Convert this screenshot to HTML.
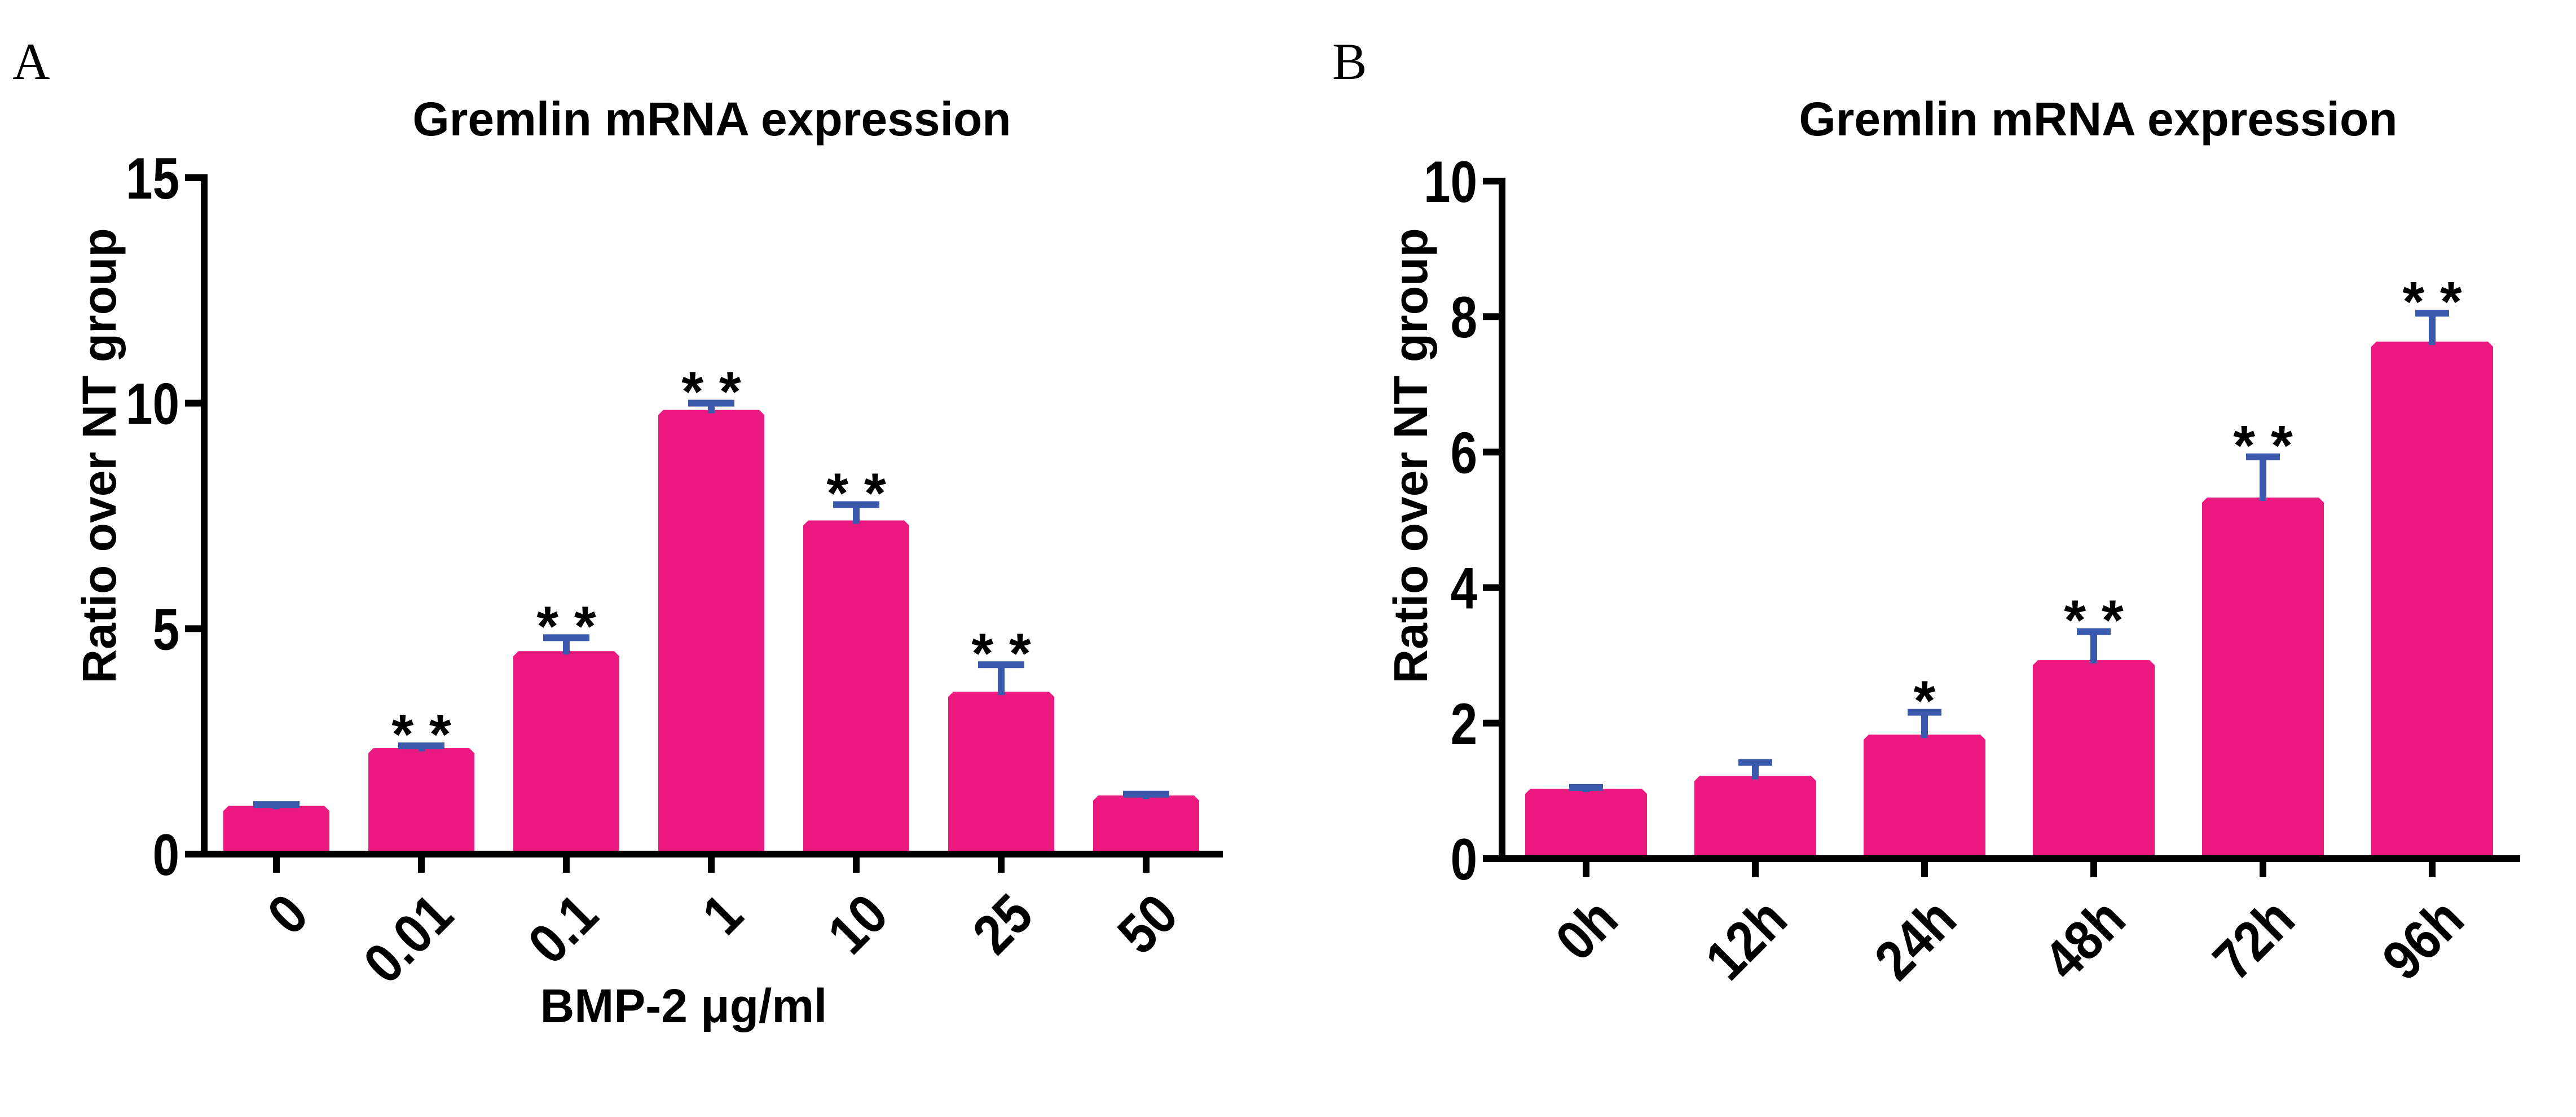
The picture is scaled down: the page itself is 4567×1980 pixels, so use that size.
<!DOCTYPE html>
<html><head><meta charset="utf-8"><style>
html,body{margin:0;padding:0;background:#fff;}
svg{display:block;}
text{font-family:"Liberation Sans",Arial,sans-serif;font-weight:bold;fill:#000;}
</style></head><body>
<svg id="fig" width="4567" height="1980" viewBox="0 0 4567 1980" xmlns="http://www.w3.org/2000/svg">
<text x="22" y="140" style="font-family:'Liberation Serif',serif;font-weight:normal;font-size:92px">A</text>
<text x="2362" y="140" style="font-family:'Liberation Serif',serif;font-weight:normal;font-size:92px">B</text>
<g id="chartA"></g>
<g id="chartB"></g>
</svg>
<script>
const catsA = ["0","0.01","0.1","1","10","25","50"];
const valsA = [1.07,2.35,4.5,9.85,7.4,3.6,1.3];
const errsA = [0.03,0.05,0.3,0.15,0.35,0.6,0.03];
const sigA = ["","* *","* *","* *","* *","* *",""];
const ticksA = [0,5,10,15];

const catsB = ["0h","12h","24h","48h","72h","96h"];
const valsB = [1.03,1.22,1.83,2.93,5.33,7.63];
const errsB = [0.02,0.2,0.33,0.42,0.6,0.42];
const sigB = ["","","*","* *","* *","* *"];
const ticksB = [0,2,4,6,8,10];

const NS = "http://www.w3.org/2000/svg";
function mk(parent, tag, attrs, txt){
  const e = document.createElementNS(NS, tag);
  for (const k in attrs) e.setAttribute(k, attrs[k]);
  if (txt !== undefined) e.textContent = txt;
  parent.appendChild(e);
  return e;
}

function drawChart(g, cfg){
  const {cats, vals, errs, sig, ticks, yMax, axisX, y0, yTop, firstX, step, barW, xEnd, capW, title, titleX, ylabX, ylabY, xTitle, prefix} = cfg;
  const yS = v => y0 - (v / yMax) * (y0 - yTop);
  const xS = i => firstX + i * step;

  const t = mk(g, "text", {x: titleX, y: 240, "text-anchor": "middle", "font-size": 84});
  t.textContent = title;
  
  

  const yl = mk(g, "text", {x: 0, y: 0, "text-anchor": "middle", "font-size": 84, transform: `translate(${ylabX},${ylabY}) rotate(-90)`});
  yl.textContent = "Ratio over NT group";
  
  

  cats.forEach((c, i) => {
    const cx = xS(i), top = yS(vals[i]), l = cx - barW / 2, r = cx + barW / 2, ch = 9;
    const b = mk(g, "path", {d: `M${l},${y0} L${l},${top + ch} L${l + ch},${top} L${r - ch},${top} L${r},${top + ch} L${r},${y0} Z`, fill: "#ec1981"});
    
    
    const et = yS(vals[i] + errs[i]);
    const eb = mk(g, "path", {d: `M${cx},${top + 6} L${cx},${et} M${cx - capW / 2},${et} L${cx + capW / 2},${et}`, stroke: "#3a59ad", "stroke-width": 12, fill: "none"});
    
    
    if (sig[i]) {
      const s = mk(g, "text", {x: cx, y: et + 14, "text-anchor": "middle", "font-size": 100, "font-weight": "normal"});
      s.textContent = sig[i];
      
      
    }
    const tk = mk(g, "line", {x1: cx, x2: cx, y1: y0, y2: y0 + 33, stroke: "#000", "stroke-width": 12});
    
    
    const lx = cx + 12, ly = y0 + 64;
    const lb = mk(g, "text", {x: 0, y: 0, "text-anchor": "end", "font-size": 100, transform: `translate(${lx},${ly}) rotate(-45) scale(0.88,1)`, dy: "0.7em"});
    lb.textContent = c;
    
    
  });

  const ya = mk(g, "line", {x1: axisX, x2: axisX, y1: yTop - 6, y2: y0 + 6, stroke: "#000", "stroke-width": 12});
  
  
  const xa = mk(g, "line", {x1: axisX - 34, x2: xEnd, y1: y0, y2: y0, stroke: "#000", "stroke-width": 12});
  
  
  ticks.forEach(v => {
    const y = yS(v);
    const tl = mk(g, "line", {x1: axisX - 34, x2: axisX, y1: y, y2: y, stroke: "#000", "stroke-width": 12});
    
    
    const tx = mk(g, "text", {x: 0, y: 0, "text-anchor": "end", "font-size": 104, transform: `translate(${axisX - 44},${y + 37}) scale(0.82,1)`});
    tx.textContent = v;
    
    
  });
  if (xTitle) {
    const xt = mk(g, "text", {x: xTitle.x, y: xTitle.y, "text-anchor": "middle", "font-size": 84});
    xt.textContent = xTitle.text;
    
    
  }
}

drawChart(document.getElementById("chartA"), {
  cats: catsA, vals: valsA, errs: errsA, sig: sigA, ticks: ticksA, yMax: 15,
  axisX: 362, y0: 1514, yTop: 315, firstX: 490, step: 257, barW: 188, xEnd: 2168, capW: 82,
  title: "Gremlin mRNA expression", titleX: 1262, ylabX: 205, ylabY: 808,
  xTitle: {text: "BMP-2 μg/ml", x: 1212, y: 1812}, prefix: "a"
});
drawChart(document.getElementById("chartB"), {
  cats: catsB, vals: valsB, errs: errsB, sig: sigB, ticks: ticksB, yMax: 10,
  axisX: 2663, y0: 1522, yTop: 321, firstX: 2812, step: 300, barW: 216, xEnd: 4468, capW: 60,
  title: "Gremlin mRNA expression", titleX: 3720, ylabX: 2530, ylabY: 808,
  xTitle: null, prefix: "b"
});
</script>
</body></html>
